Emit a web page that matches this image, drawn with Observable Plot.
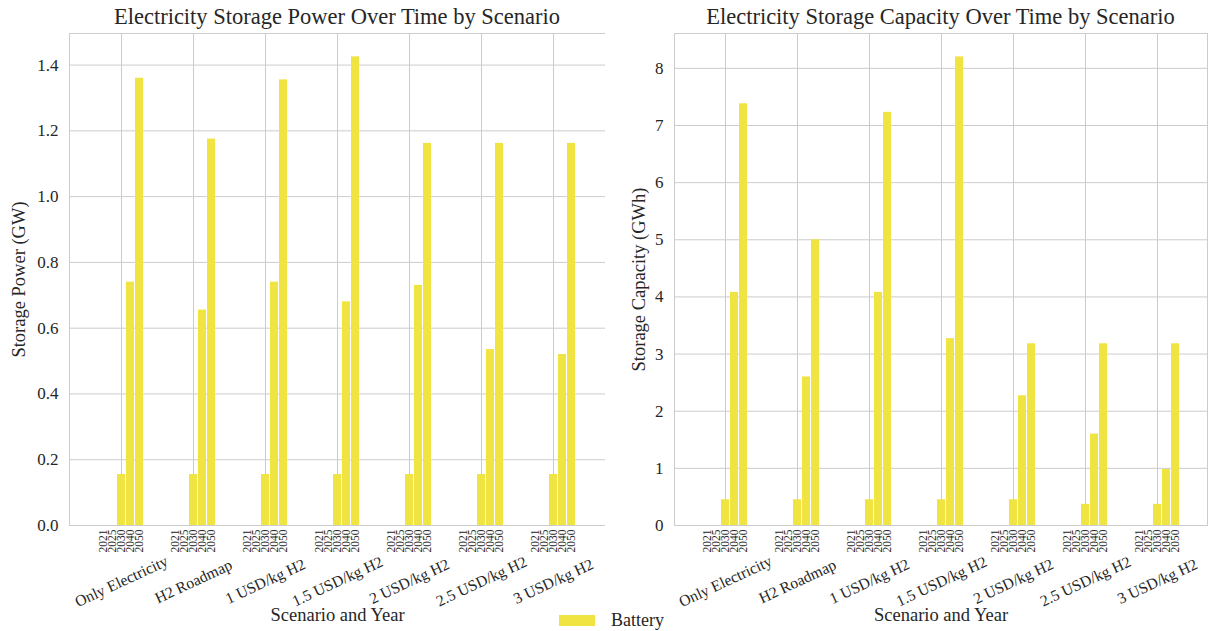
<!DOCTYPE html>
<html>
<head>
<meta charset="utf-8">
<script src="https://cdn.jsdelivr.net/npm/d3@7"></script>
<script src="https://cdn.jsdelivr.net/npm/@observablehq/plot@0.6"></script>
<style>
  html, body { margin: 0; padding: 0; background: #fff; }
  #root { position: relative; width: 1210px; height: 631px; overflow: hidden; font-family: "Liberation Serif", "Times New Roman", serif; color: #262626; }
  .panel { position: absolute; top: 0; width: 605px; height: 631px; }
  .title { position: absolute; top: 0; height: 30px; font-size: 22.5px; line-height: 34px; text-align: center; white-space: nowrap; }
  .panel svg { position: absolute; top: 30px; left: 0; }
  .legend { position: absolute; left: 559px; top: 610px; display: flex; align-items: center; font-size: 18px; line-height: 20px; }
  .legend .sw { width: 36px; height: 11px; margin-right: 16px; }
</style>
</head>
<body>
<div id="root"></div>
<script>
// ---- data ----
const scenarios = ["Only Electricity", "H2 Roadmap", "1 USD/kg H2", "1.5 USD/kg H2", "2 USD/kg H2", "2.5 USD/kg H2", "3 USD/kg H2"];
const years = ["2021", "2025", "2030", "2040", "2050"];

const power2021 = [0, 0, 0, 0, 0, 0, 0];
const power2025 = [0, 0, 0, 0, 0, 0, 0];
const power2030 = [0.155, 0.155, 0.155, 0.155, 0.155, 0.155, 0.155];
const power2040 = [0.74, 0.655, 0.74, 0.68, 0.73, 0.535, 0.52];
const power2050 = [1.36, 1.175, 1.355, 1.425, 1.162, 1.162, 1.162];

const capacity2021 = [0, 0, 0, 0, 0, 0, 0];
const capacity2025 = [0, 0, 0, 0, 0, 0, 0];
const capacity2030 = [0.45, 0.45, 0.45, 0.45, 0.45, 0.37, 0.37];
const capacity2040 = [4.08, 2.6, 4.08, 3.27, 2.27, 1.6, 0.98];
const capacity2050 = [7.38, 5.0, 7.23, 8.2, 3.18, 3.18, 3.18];

const powerTicks = [0, 0.2, 0.4, 0.6, 0.8, 1.0, 1.2, 1.4];
const capacityTicks = [0, 1, 2, 3, 4, 5, 6, 7, 8];

const seriesName = "Battery";
const barColor = "#F0E442";
const gridColor = "#cccccc";
const textColor = "#262626";

// ---- helpers ----
const key = (s, y) => `${s}|${y}`;
function buildDomain() {
  const dom = [];
  scenarios.forEach((s, i) => {
    years.forEach(y => dom.push(key(s, y)));
    if (i < scenarios.length - 1) for (let g = 0; g < 3; g++) dom.push(`gap|${i}|${g}`);
  });
  return dom;
}
function buildRows(byYear) {
  const rows = [];
  scenarios.forEach((s, i) => {
    years.forEach((y, j) => rows.push({scenario: s, year: y, key: key(s, y), value: byYear[j][i]}));
  });
  return rows;
}

function makePanel({rows, yMax, yTicks, yFmt, yLabel, yLabelDx, width, marginRight}) {
  const domain = buildDomain();
  const tickKeys = domain.filter(d => !d.startsWith("gap|"));
  return Plot.plot({
    width,
    height: 601,
    marginTop: 3,
    marginBottom: 106,
    marginLeft: 69,
    marginRight,
    style: {fontFamily: "Liberation Serif, Times New Roman, serif", fontSize: "16px", color: textColor, background: "transparent"},
    x: {type: "band", domain, paddingInner: 0.13, paddingOuter: 2.79},
    y: {domain: [0, yMax]},
    marks: [
      Plot.gridY(yTicks, {stroke: gridColor, strokeOpacity: 1, strokeWidth: 1}),
      Plot.ruleX(scenarios, {x: s => key(s, "2030"), stroke: gridColor, strokeWidth: 1}),
      Plot.barY(rows, {x: "key", y: "value", fill: barColor}),
      Plot.frame({stroke: gridColor, strokeWidth: 1}),
      Plot.axisY({ticks: yTicks, tickFormat: yFmt, tickSize: 0, tickPadding: 11, fontSize: 17, label: null}),
      Plot.axisX({ticks: tickKeys, tickFormat: k => k.split("|")[1], tickRotate: -90, tickSize: 0, tickPadding: 4, fontSize: 11.5, label: null}),
      Plot.text(scenarios, {x: s => key(s, "2030"), text: d => d, frameAnchor: "bottom", lineAnchor: "middle", textAnchor: "middle", dy: 56, rotate: -25, fontSize: 15.7, fill: textColor}),
      Plot.text(["Scenario and Year"], {frameAnchor: "bottom", lineAnchor: "middle", textAnchor: "middle", dy: 90, fontSize: 18.5, fill: textColor}),
      Plot.text([yLabel], {frameAnchor: "left", lineAnchor: "middle", textAnchor: "middle", dx: yLabelDx, rotate: -90, fontSize: 18.5, fill: textColor})
    ]
  });
}

const root = document.getElementById("root");

function addPanel(left, titleText, plotEl, plotLeft, plotRight) {
  const p = document.createElement("div");
  p.className = "panel";
  p.style.left = left + "px";
  const t = document.createElement("div");
  t.className = "title";
  t.textContent = titleText;
  t.style.left = plotLeft + "px";
  t.style.width = (plotRight - plotLeft) + "px";
  p.appendChild(t);
  p.appendChild(plotEl);
  root.appendChild(p);
}

const powerRows = buildRows([power2021, power2025, power2030, power2040, power2050]);
const capacityRows = buildRows([capacity2021, capacity2025, capacity2030, capacity2040, capacity2050]);

const left = makePanel({rows: powerRows, yMax: 1.496, yTicks: powerTicks, yFmt: d3.format(".1f"),
  yLabel: "Storage Power (GW)", yLabelDx: -50, width: 605, marginRight: 0});
const right = makePanel({rows: capacityRows, yMax: 8.61, yTicks: capacityTicks, yFmt: d3.format("d"),
  yLabel: "Storage Capacity (GWh)", yLabelDx: -35, width: 605, marginRight: 3});

addPanel(0, "Electricity Storage Power Over Time by Scenario", left, 69, 605);
addPanel(605, "Electricity Storage Capacity Over Time by Scenario", right, 69, 602);

const lg = document.createElement("div");
lg.className = "legend";
lg.innerHTML = `<div class="sw" style="background:${barColor}"></div><span>${seriesName}</span>`;
root.appendChild(lg);
</script>
</body>
</html>
